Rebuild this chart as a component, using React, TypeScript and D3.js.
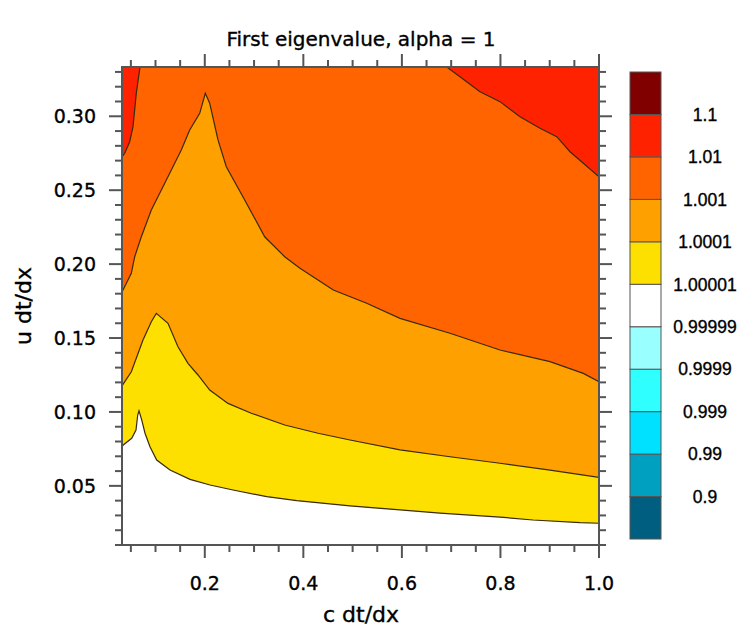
import React from 'react';
import * as d3 from 'd3';

const width = 740;
const height = 633;
const plot = {left: 122, right: 599, top: 67, bottom: 545};

// contour boundaries, [c dt/dx, u dt/dx]
const level1_00001 = [
  [0.032, 0.0763], [0.0346, 0.0777], [0.0517, 0.0822], [0.0604, 0.0878], [0.0639, 0.0979],
  [0.0665, 0.1008], [0.0720, 0.0946], [0.0787, 0.0856], [0.0888, 0.0765], [0.1024, 0.0675],
  [0.1294, 0.0607], [0.1700, 0.0544], [0.2106, 0.0506], [0.2573, 0.0472], [0.3257, 0.0427],
  [0.3866, 0.0400], [0.4947, 0.0364], [0.5962, 0.0337], [0.6773, 0.0316], [0.7991, 0.0289],
  [0.8661, 0.0269], [0.9615, 0.0251], [1.0, 0.0247],
];
const level1_0001 = [
  [0.032, 0.1176], [0.0509, 0.1272], [0.0746, 0.1487], [0.0915, 0.1610], [0.1016, 0.1667],
  [0.1253, 0.1600], [0.1456, 0.1441], [0.1659, 0.1329], [0.1862, 0.1250], [0.2100, 0.1148],
  [0.2471, 0.1058], [0.2944, 0.0991], [0.3622, 0.0912], [0.4298, 0.0856], [0.4947, 0.0810],
  [0.5962, 0.0743], [0.6976, 0.0697], [0.7991, 0.0653], [0.9006, 0.0607], [1.0, 0.0558],
];
const level1_001 = [
  [0.032, 0.1811], [0.0509, 0.1938], [0.0578, 0.2050], [0.0712, 0.2185], [0.0915, 0.2366],
  [0.1187, 0.2547], [0.1523, 0.2772], [0.1694, 0.2907], [0.1897, 0.3020], [0.2010, 0.3155],
  [0.2100, 0.3088], [0.2268, 0.2840], [0.2437, 0.2659], [0.2810, 0.2434], [0.3216, 0.2185],
  [0.3622, 0.2050], [0.3932, 0.1972], [0.4608, 0.1825], [0.5286, 0.1735], [0.5962, 0.1633],
  [0.6976, 0.1532], [0.7991, 0.1419], [0.9006, 0.1340], [0.9682, 0.1261], [1.0, 0.1205],
];
const level1_01Right = [
  [0.6910, 0.3333], [0.7179, 0.3268], [0.7585, 0.3166], [0.7991, 0.3099], [0.8397, 0.2997],
  [0.8803, 0.2919], [0.9142, 0.2862], [0.9412, 0.2760], [0.9682, 0.2682], [1.0, 0.2591],
];
const level1_01Left = [
  [0.0685, 0.3333], [0.0610, 0.3155], [0.0543, 0.2930], [0.0476, 0.2828], [0.0375, 0.2750],
  [0.032, 0.2725],
];

const xTicks = [0.2, 0.4, 0.6, 0.8, 1.0];
const xTickLabels = ['0.2', '0.4', '0.6', '0.8', '1.0'];
const yTicks = [0.05, 0.10, 0.15, 0.20, 0.25, 0.30];
const yTickLabels = ['0.05', '0.10', '0.15', '0.20', '0.25', '0.30'];

const levels = ['0.9', '0.99', '0.999', '0.9999', '0.99999', '1.00001', '1.0001', '1.001', '1.01', '1.1'];
const levelColors = ['#005f80', '#00a0c0', '#00e0ff', '#30ffff', '#99ffff', '#ffffff',
  '#fde000', '#fda000', '#ff6400', '#ff2200', '#800000'];

const xScale = d3.scaleLinear().domain([0.032, 1.0]).range([plot.left, plot.right]);
const yScale = d3.scaleLinear().domain([0.01, 1 / 3]).range([plot.bottom, plot.top]);

const xMinor = d3.range(1, 21).map(i => i * 0.05);
const yMinor = d3.range(1, 34).map(i => i * 0.01);

const lineGen = d3.line<number[]>().x(d => xScale(d[0])).y(d => yScale(d[1]));
const areaGen = d3.area<number[]>()
  .x(d => xScale(d[0]))
  .y0(plot.bottom)
  .y1(d => yScale(d[1]));

const tickFont = '"DejaVu Sans", sans-serif';
const barFont = '"Liberation Sans", Arial, sans-serif';
// the original text is a bit heavier than plain DejaVu, so give it a hairline stroke
const heavy = {fill: '#000', stroke: '#000', strokeWidth: 0.35};

function ColorBar() {
  const bar = {x: 630, w: 31, top: 72, bottom: 539};
  const band = d3.scaleBand<number>()
    .domain(d3.range(levelColors.length))
    .range([bar.bottom, bar.top]);
  return (
    <g>
      {levelColors.map((c, i) => (
        <rect key={i} x={bar.x} y={band(i)} width={bar.w} height={band.bandwidth()}
          fill={c} stroke="#555" strokeWidth={1}/>
      ))}
      {levels.map((l, i) => (
        <text key={l} x={705} y={band(i)} dy="0.36em" textAnchor="middle"
          fontFamily={barFont} fontSize={17.5} {...heavy}>{l}</text>
      ))}
    </g>
  );
}

export default function App() {
  const red = levelColors[9];
  const leftSliver = lineGen(level1_01Left) + `L${plot.left},${plot.top}Z`;
  const rightCorner = lineGen(level1_01Right) + `L${plot.right},${plot.top}Z`;

  return (
    <svg width={width} height={height} style={{position: 'absolute', left: 0, top: 0}}>
      <text x={361} y={46} textAnchor="middle" fontFamily={tickFont} fontSize={20} {...heavy}>
        First eigenvalue, alpha = 1
      </text>

      <defs>
        <clipPath id="plotClip">
          <rect x={plot.left} y={plot.top} width={plot.right - plot.left} height={plot.bottom - plot.top}/>
        </clipPath>
      </defs>

      <g clipPath="url(#plotClip)">
        <rect x={plot.left} y={plot.top} width={plot.right - plot.left} height={plot.bottom - plot.top}
          fill={levelColors[8]}/>
        <path d={leftSliver} fill={red}/>
        <path d={rightCorner} fill={red}/>
        <path d={areaGen(level1_001)} fill={levelColors[7]}/>
        <path d={areaGen(level1_0001)} fill={levelColors[6]}/>
        <path d={areaGen(level1_00001)} fill={levelColors[5]}/>
        {[level1_001, level1_0001, level1_00001, level1_01Right, level1_01Left].map((c, i) => (
          <path key={i} d={lineGen(c)} fill="none" stroke="#3a2a10" strokeWidth={1.2}/>
        ))}
      </g>

      {/* ticks on all four sides, pointing out */}
      <g stroke="#555" strokeWidth={2}>
        {xMinor.filter(v => v >= 0.032).map(v => {
          const major = xTicks.some(t => Math.abs(t - v) < 1e-6);
          const len = major ? 13 : 7;
          return (
            <g key={'x' + v}>
              <line x1={xScale(v)} x2={xScale(v)} y1={plot.bottom} y2={plot.bottom + len}/>
              <line x1={xScale(v)} x2={xScale(v)} y1={plot.top} y2={plot.top - len}/>
            </g>
          );
        })}
        {yMinor.map(v => {
          const major = yTicks.some(t => Math.abs(t - v) < 1e-6);
          const len = major ? 13 : 7;
          return (
            <g key={'y' + v}>
              <line x1={plot.left} x2={plot.left - len} y1={yScale(v)} y2={yScale(v)}/>
              <line x1={plot.right} x2={plot.right + len} y1={yScale(v)} y2={yScale(v)}/>
            </g>
          );
        })}
      </g>
      <rect x={plot.left} y={plot.top} width={plot.right - plot.left} height={plot.bottom - plot.top}
        fill="none" stroke="#555" strokeWidth={2}/>

      {xTicks.map((t, i) => (
        <text key={t} x={xScale(t)} y={590} textAnchor="middle"
          fontFamily={tickFont} fontSize={19} {...heavy}>{xTickLabels[i]}</text>
      ))}
      {yTicks.map((t, i) => (
        <text key={t} x={96} y={yScale(t)} dy="0.36em" textAnchor="end"
          fontFamily={tickFont} fontSize={19} {...heavy}>{yTickLabels[i]}</text>
      ))}

      <text x={361} y={622} textAnchor="middle" fontFamily={tickFont} fontSize={22} {...heavy}>c dt/dx</text>
      <text transform={`translate(31, ${(plot.top + plot.bottom) / 2}) rotate(-90)`} textAnchor="middle"
        fontFamily={tickFont} fontSize={22} {...heavy}>u dt/dx</text>

      <ColorBar/>
    </svg>
  );
}
